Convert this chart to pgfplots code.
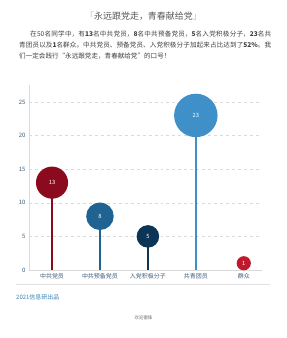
\documentclass[border=0pt]{standalone}
\usepackage{fontspec}
\setmainfont{Noto Sans CJK SC}
\XeTeXlinebreaklocale "zh"
\XeTeXlinebreakskip = 0pt plus 1pt
\usepackage{pgfplots}
\pgfplotsset{compat=1.18}
\definecolor{cRedDark}{HTML}{8B0A1E}
\definecolor{cBlueMid}{HTML}{1F6393}
\definecolor{cNavy}{HTML}{0B3457}
\definecolor{cBlueLight}{HTML}{3F8FC8}
\definecolor{cRed}{HTML}{C0182C}
\definecolor{tickc}{HTML}{3E5C7E}
\definecolor{gridc}{HTML}{DADADA}
\begin{document}
\begin{tikzpicture}
\path[use as bounding box] (0bp,0bp) rectangle (287bp,338bp);
\node[font=\fontsize{9}{10}\selectfont, text=black!65] at (143.5bp,322bp) {\textcolor{black!25}{「}永远跟党走，青春献给党\textcolor{black!25}{」}};
\node[anchor=north west, text width=252bp, align=justify, inner sep=0pt, font=\fontsize{6.6}{11}\selectfont, text=black!75] at (19bp,307bp)
{\hspace*{11bp}在50名同学中，有\textbf{13}名中共党员，\textbf{8}名中共预备党员，\textbf{5}名入党积极分子，\textbf{23}名共青团员以及\textbf{1}名群众。中共党员、预备党员、入党积极分子加起来占比达到了\textbf{52\%}。我们一定会践行“永远跟党走，青春献给党”的口号！};
\begin{axis}[
  at={(29bp,68bp)}, anchor=south west,
  scale only axis, width=233bp, height=184.8bp,
  xmin=-0.48, xmax=4.38, ymin=0, ymax=27.5,
  xtick={0,1,2,3,4},
  xticklabels={中共党员,中共预备党员,入党积极分子,共青团员,群众},
  ytick={0,5,10,15,20,25},
  /pgf/number format/assume math mode=true,
  ticklabel style={font=\fontsize{6}{7}\selectfont, text=tickc},
  major tick length=0pt,
  axis x line*=bottom, axis y line*=left,
  axis line style={gridc, line width=0.8pt},
  ymajorgrids, grid style={gridc, dashed, line width=0.5pt},
  clip=false,
  nodes near coords, point meta=explicit symbolic,
  every node near coord/.append style={anchor=center, text=white, font=\fontsize{5.8}{6}\selectfont},
]
\addplot[ycomb, cRedDark, line width=1.6pt, mark=*, mark size=15.3pt, mark options={fill=cRedDark, draw=cRedDark}] coordinates {(0,13) [13]};
\addplot[ycomb, cBlueMid, line width=1.6pt, mark=*, mark size=13pt, mark options={fill=cBlueMid, draw=cBlueMid}] coordinates {(1,8) [8]};
\addplot[ycomb, cNavy, line width=1.6pt, mark=*, mark size=10.5pt, mark options={fill=cNavy, draw=cNavy}] coordinates {(2,5) [5]};
\addplot[ycomb, cBlueLight, line width=1.6pt, mark=*, mark size=21pt, mark options={fill=cBlueLight, draw=cBlueLight}] coordinates {(3,23) [23]};
\addplot[ycomb, cRed, line width=1.6pt, mark=*, mark size=6.3pt, mark options={fill=cRed, draw=cRed}] coordinates {(4,1) [1]};
\end{axis}
\draw[black!12, line width=0.6pt] (16bp,54bp) -- (270bp,54bp);
\node[anchor=west, inner sep=0pt, font=\fontsize{6}{7}\selectfont, text=cBlueLight!90!black] at (16bp,41bp) {2021信息研出品};
\node[font=\fontsize{4.5}{5}\selectfont, text=black!55] at (143.5bp,20bp) {欢迎雷锋};
\end{tikzpicture}
\end{document}
